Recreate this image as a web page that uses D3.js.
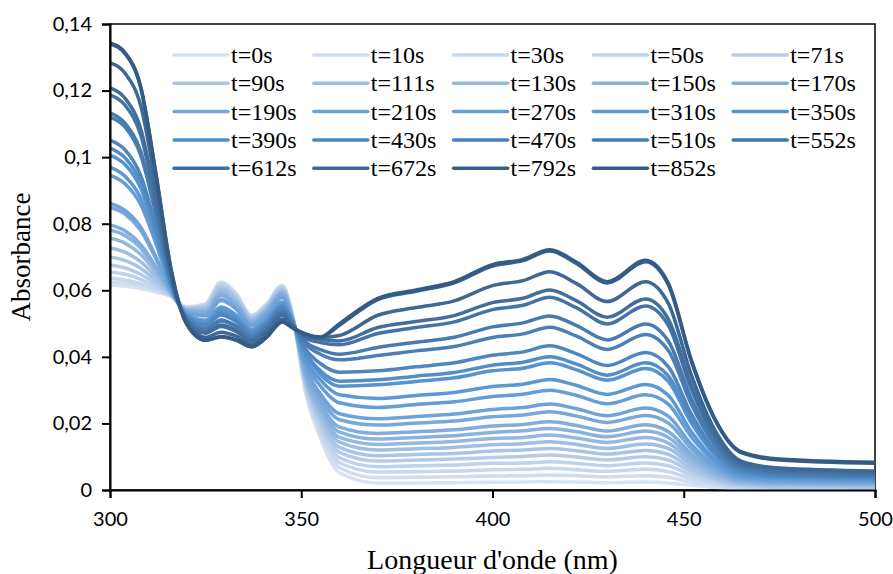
<!DOCTYPE html>
<html>
<head>
<meta charset="utf-8">
<script src="https://cdn.jsdelivr.net/npm/d3@7"></script>
<style>
  body { margin: 0; background: #fff; }
  svg { display: block; }
</style>
</head>
<body>
<svg id="chart"></svg>
<script>
// wavelength grid (nm) shared by every spectrum
const wavelengths = [300, 304, 308, 312, 316, 320, 325, 329, 333, 337, 341, 345, 348, 351, 355, 360,
  370, 380, 390, 400, 408, 415, 422, 430, 440, 446, 452, 458, 465, 475, 500];

const times = ['t=0s', 't=10s', 't=30s', 't=50s', 't=71s', 't=90s', 't=111s', 't=130s', 't=150s', 't=170s',
  't=190s', 't=210s', 't=270s', 't=310s', 't=350s', 't=390s', 't=430s', 't=470s', 't=510s', 't=552s',
  't=612s', 't=672s', 't=792s', 't=852s'];

const a0 = [0.0616, 0.0612, 0.0605, 0.0594, 0.0582, 0.0550, 0.0560, 0.0625, 0.0590, 0.0525, 0.0560, 0.0615, 0.0510, 0.0299, 0.0156, 0.0052,
  0.0021, 0.0021, 0.0022, 0.0023, 0.0024, 0.0025, 0.0024, 0.0022, 0.0024, 0.0021, 0.0014, 0.0008, 0.0004, 0.0003, 0.0003];
const a10 = [0.0625, 0.0621, 0.0612, 0.0598, 0.0582, 0.0549, 0.0559, 0.0623, 0.0588, 0.0524, 0.0559, 0.0614, 0.0510, 0.0305, 0.0167, 0.0067,
  0.0037, 0.0038, 0.0040, 0.0042, 0.0043, 0.0045, 0.0043, 0.0039, 0.0043, 0.0038, 0.0024, 0.0013, 0.0006, 0.0005, 0.0004];
const a30 = [0.0637, 0.0631, 0.0620, 0.0603, 0.0583, 0.0549, 0.0557, 0.0620, 0.0586, 0.0522, 0.0557, 0.0612, 0.0509, 0.0312, 0.0178, 0.0082,
  0.0054, 0.0055, 0.0057, 0.0061, 0.0062, 0.0065, 0.0061, 0.0056, 0.0062, 0.0055, 0.0034, 0.0018, 0.0008, 0.0006, 0.0005];
const a50 = [0.0655, 0.0648, 0.0633, 0.0610, 0.0584, 0.0547, 0.0554, 0.0616, 0.0582, 0.0520, 0.0555, 0.0609, 0.0509, 0.0318, 0.0189, 0.0097,
  0.0070, 0.0073, 0.0075, 0.0080, 0.0081, 0.0085, 0.0080, 0.0073, 0.0081, 0.0073, 0.0044, 0.0023, 0.0011, 0.0008, 0.0007];
const a71 = [0.0676, 0.0667, 0.0648, 0.0619, 0.0585, 0.0546, 0.0551, 0.0611, 0.0578, 0.0517, 0.0552, 0.0606, 0.0508, 0.0324, 0.0201, 0.0113,
  0.0087, 0.0090, 0.0093, 0.0098, 0.0101, 0.0105, 0.0099, 0.0091, 0.0100, 0.0090, 0.0055, 0.0029, 0.0014, 0.0010, 0.0009];
const a90 = [0.0700, 0.0689, 0.0666, 0.0629, 0.0587, 0.0544, 0.0547, 0.0606, 0.0574, 0.0514, 0.0548, 0.0602, 0.0507, 0.0330, 0.0212, 0.0128,
  0.0103, 0.0107, 0.0110, 0.0117, 0.0120, 0.0125, 0.0118, 0.0108, 0.0119, 0.0107, 0.0065, 0.0034, 0.0016, 0.0012, 0.0010];
const a111 = [0.0727, 0.0714, 0.0686, 0.0641, 0.0589, 0.0542, 0.0543, 0.0600, 0.0569, 0.0511, 0.0545, 0.0598, 0.0506, 0.0337, 0.0224, 0.0144,
  0.0120, 0.0124, 0.0128, 0.0136, 0.0139, 0.0145, 0.0137, 0.0125, 0.0138, 0.0124, 0.0076, 0.0041, 0.0020, 0.0015, 0.0013];
const a130 = [0.0757, 0.0741, 0.0708, 0.0654, 0.0591, 0.0540, 0.0539, 0.0593, 0.0563, 0.0507, 0.0541, 0.0594, 0.0505, 0.0343, 0.0236, 0.0158,
  0.0137, 0.0141, 0.0146, 0.0155, 0.0158, 0.0165, 0.0156, 0.0143, 0.0158, 0.0141, 0.0087, 0.0047, 0.0023, 0.0017, 0.0015];
const a150 = [0.0781, 0.0764, 0.0727, 0.0664, 0.0593, 0.0539, 0.0535, 0.0588, 0.0558, 0.0503, 0.0537, 0.0590, 0.0504, 0.0349, 0.0247, 0.0174,
  0.0153, 0.0158, 0.0163, 0.0173, 0.0178, 0.0185, 0.0175, 0.0160, 0.0177, 0.0158, 0.0098, 0.0053, 0.0026, 0.0021, 0.0018];
const a170 = [0.0796, 0.0778, 0.0738, 0.0671, 0.0594, 0.0538, 0.0533, 0.0584, 0.0555, 0.0501, 0.0535, 0.0588, 0.0504, 0.0355, 0.0259, 0.0189,
  0.0170, 0.0175, 0.0181, 0.0192, 0.0197, 0.0205, 0.0194, 0.0177, 0.0196, 0.0175, 0.0109, 0.0059, 0.0029, 0.0023, 0.0020];
const a190 = [0.0850, 0.0828, 0.0780, 0.0695, 0.0598, 0.0534, 0.0525, 0.0572, 0.0545, 0.0494, 0.0528, 0.0580, 0.0502, 0.0364, 0.0275, 0.0211,
  0.0195, 0.0201, 0.0207, 0.0220, 0.0225, 0.0235, 0.0222, 0.0203, 0.0224, 0.0201, 0.0124, 0.0067, 0.0033, 0.0025, 0.0022];
const a210 = [0.0862, 0.0839, 0.0790, 0.0701, 0.0599, 0.0533, 0.0523, 0.0569, 0.0543, 0.0493, 0.0526, 0.0578, 0.0502, 0.0372, 0.0289, 0.0229,
  0.0214, 0.0221, 0.0228, 0.0242, 0.0248, 0.0258, 0.0244, 0.0223, 0.0246, 0.0221, 0.0137, 0.0074, 0.0037, 0.0028, 0.0025];
const a270 = [0.0946, 0.0919, 0.0858, 0.0741, 0.0607, 0.0527, 0.0510, 0.0550, 0.0526, 0.0482, 0.0515, 0.0565, 0.0499, 0.0385, 0.0313, 0.0262,
  0.0248, 0.0257, 0.0265, 0.0281, 0.0288, 0.0300, 0.0284, 0.0259, 0.0286, 0.0257, 0.0159, 0.0085, 0.0042, 0.0032, 0.0028];
const a310 = [0.0970, 0.0942, 0.0878, 0.0752, 0.0610, 0.0526, 0.0506, 0.0545, 0.0522, 0.0479, 0.0511, 0.0561, 0.0498, 0.0395, 0.0331, 0.0286,
  0.0275, 0.0284, 0.0293, 0.0311, 0.0318, 0.0332, 0.0314, 0.0287, 0.0317, 0.0284, 0.0175, 0.0093, 0.0045, 0.0035, 0.0030];
const a350 = [0.1006, 0.0977, 0.0908, 0.0770, 0.0614, 0.0523, 0.0501, 0.0537, 0.0515, 0.0474, 0.0506, 0.0556, 0.0497, 0.0410, 0.0347, 0.0312,
  0.0316, 0.0326, 0.0337, 0.0358, 0.0366, 0.0382, 0.0361, 0.0330, 0.0365, 0.0326, 0.0201, 0.0107, 0.0051, 0.0039, 0.0034];
const a390 = [0.1027, 0.0997, 0.0926, 0.0780, 0.0616, 0.0522, 0.0498, 0.0532, 0.0511, 0.0471, 0.0504, 0.0553, 0.0496, 0.0416, 0.0358, 0.0327,
  0.0331, 0.0342, 0.0353, 0.0375, 0.0384, 0.0400, 0.0378, 0.0345, 0.0382, 0.0342, 0.0211, 0.0112, 0.0054, 0.0041, 0.0036];
const a430 = [0.1051, 0.1021, 0.0946, 0.0792, 0.0619, 0.0520, 0.0494, 0.0526, 0.0506, 0.0468, 0.0500, 0.0549, 0.0495, 0.0426, 0.0380, 0.0354,
  0.0358, 0.0370, 0.0382, 0.0405, 0.0415, 0.0433, 0.0409, 0.0374, 0.0413, 0.0370, 0.0228, 0.0121, 0.0058, 0.0044, 0.0038];
const a470 = [0.1120, 0.1089, 0.1007, 0.0828, 0.0628, 0.0515, 0.0484, 0.0511, 0.0493, 0.0459, 0.0491, 0.0539, 0.0493, 0.0440, 0.0408, 0.0391,
  0.0404, 0.0418, 0.0431, 0.0458, 0.0469, 0.0489, 0.0462, 0.0422, 0.0467, 0.0418, 0.0257, 0.0136, 0.0064, 0.0049, 0.0042];
const a510 = [0.1133, 0.1101, 0.1018, 0.0834, 0.0629, 0.0514, 0.0482, 0.0508, 0.0491, 0.0458, 0.0489, 0.0537, 0.0492, 0.0446, 0.0422, 0.0408,
  0.0428, 0.0444, 0.0459, 0.0490, 0.0502, 0.0523, 0.0494, 0.0451, 0.0499, 0.0447, 0.0274, 0.0145, 0.0069, 0.0052, 0.0045];
const a552 = [0.1187, 0.1155, 0.1067, 0.0863, 0.0636, 0.0511, 0.0474, 0.0496, 0.0480, 0.0450, 0.0482, 0.0529, 0.0490, 0.0457, 0.0443, 0.0436,
  0.0470, 0.0488, 0.0505, 0.0542, 0.0555, 0.0579, 0.0547, 0.0499, 0.0553, 0.0494, 0.0303, 0.0160, 0.0075, 0.0056, 0.0048];
const a612 = [0.1208, 0.1176, 0.1086, 0.0875, 0.0640, 0.0509, 0.0471, 0.0491, 0.0476, 0.0448, 0.0479, 0.0526, 0.0490, 0.0462, 0.0453, 0.0448,
  0.0488, 0.0506, 0.0524, 0.0563, 0.0576, 0.0601, 0.0568, 0.0519, 0.0574, 0.0513, 0.0316, 0.0168, 0.0080, 0.0061, 0.0053];
const a672 = [0.1283, 0.1251, 0.1156, 0.0916, 0.0651, 0.0504, 0.0459, 0.0474, 0.0462, 0.0438, 0.0468, 0.0514, 0.0487, 0.0468, 0.0458, 0.0464,
  0.0525, 0.0548, 0.0568, 0.0614, 0.0629, 0.0656, 0.0620, 0.0566, 0.0626, 0.0560, 0.0345, 0.0183, 0.0087, 0.0066, 0.0057];
const a792 = [0.1340, 0.1310, 0.1210, 0.0949, 0.0660, 0.0500, 0.0450, 0.0461, 0.0451, 0.0430, 0.0460, 0.0505, 0.0485, 0.0470, 0.0458, 0.0495,
  0.0572, 0.0597, 0.0622, 0.0673, 0.0689, 0.0718, 0.0680, 0.0622, 0.0686, 0.0616, 0.0386, 0.0214, 0.0112, 0.0090, 0.0080];
const a852 = [0.1343, 0.1313, 0.1213, 0.0951, 0.0661, 0.0500, 0.0450, 0.0460, 0.0450, 0.0430, 0.0460, 0.0505, 0.0485, 0.0468, 0.0460, 0.0500,
  0.0576, 0.0601, 0.0626, 0.0677, 0.0693, 0.0722, 0.0684, 0.0626, 0.0690, 0.0620, 0.0390, 0.0217, 0.0115, 0.0093, 0.0083];

const spectra = [a0, a10, a30, a50, a71, a90, a111, a130, a150, a170, a190, a210, a270, a310, a350, a390,
  a430, a470, a510, a552, a612, a672, a792, a852];

const xTicks = [300, 350, 400, 450, 500];
const yTicks = [0, 0.02, 0.04, 0.06, 0.08, 0.1, 0.12, 0.14];

const seriesColors = ['#d8e3f2', '#cfddf0', '#c6d8ee', '#bdd2eb', '#b4cce8', '#a9c5e5', '#9ebee3', '#94b8e0',
  '#8ab2de', '#81acdc', '#78a7da', '#6fa2d8', '#659dd6', '#5c98d3', '#5793ce', '#528dc6',
  '#4e86bd', '#4a80b5', '#477aae', '#4474a6', '#416e9e', '#3d6894', '#38618a', '#345b83'];

const config = {
  width: 893, height: 574,
  margin: {top: 24, right: 18, bottom: 84, left: 110}
};

const width = config.width - config.margin.left - config.margin.right;
const height = config.height - config.margin.top - config.margin.bottom;

const svg = d3.select('#chart')
  .attr('width', config.width)
  .attr('height', config.height);

const chart = svg.append('g')
  .attr('transform', `translate(${config.margin.left},${config.margin.top})`);

const xScale = d3.scaleLinear().domain([300, 500]).range([0, width]);
const yScale = d3.scaleLinear().domain([0, 0.14]).range([height, 0]);

const fmt = d => String(+d.toFixed(2)).replace('.', ',');

// frame
chart.append('rect')
  .attr('width', width)
  .attr('height', height)
  .attr('fill', 'none')
  .attr('stroke', '#000')
  .attr('stroke-width', 1.5);

chart.append('clipPath').attr('id', 'plot-clip')
  .append('rect').attr('width', width).attr('height', height);

const line = d3.line()
  .x((d, i) => xScale(wavelengths[i]))
  .y(d => yScale(d))
  .curve(d3.curveMonotoneX);

chart.append('g')
  .attr('clip-path', 'url(#plot-clip)')
  .selectAll('.spectrum')
  .data(spectra)
  .join('path')
  .attr('class', 'spectrum')
  .attr('d', line)
  .attr('fill', 'none')
  .attr('stroke', (d, i) => seriesColors[i])
  .attr('stroke-width', 3.5)
  .attr('stroke-linejoin', 'round')
  .attr('stroke-linecap', 'round');

// axes
const xAxis = d3.axisBottom(xScale).tickValues(xTicks).tickSize(8).tickPadding(14).tickFormat(d3.format('d'));
const yAxis = d3.axisLeft(yScale).tickValues(yTicks).tickSize(8).tickPadding(10).tickFormat(fmt);

chart.append('g')
  .attr('transform', `translate(0,${height})`)
  .call(xAxis)
  .call(g => g.selectAll('.domain, line').attr('stroke', '#000').attr('stroke-width', 2))
  .call(g => g.selectAll('text').attr('fill', '#000').style('font-family', 'Lato, sans-serif').style('font-size', '20px'));

chart.append('g')
  .call(yAxis)
  .call(g => g.selectAll('.domain, line').attr('stroke', '#000').attr('stroke-width', 2))
  .call(g => g.selectAll('text').attr('fill', '#000').style('font-family', 'Lato, sans-serif').style('font-size', '20px'));

// axis titles
svg.append('text')
  .attr('x', config.margin.left + width / 2)
  .attr('y', 569)
  .attr('text-anchor', 'middle')
  .style('font-family', '"Liberation Serif", "Times New Roman", serif')
  .style('font-size', '28px')
  .text("Longueur d'onde (nm)");

svg.append('text')
  .attr('transform', `translate(30,${config.margin.top + height / 2}) rotate(-90)`)
  .attr('text-anchor', 'middle')
  .style('font-family', '"Liberation Serif", "Times New Roman", serif')
  .style('font-size', '27px')
  .text('Absorbance');

// legend, 5 columns
const legend = svg.append('g').attr('transform', 'translate(174,55)');
const item = legend.selectAll('.legend-item')
  .data(times)
  .join('g')
  .attr('class', 'legend-item')
  .attr('transform', (d, i) => `translate(${(i % 5) * 139.8},${Math.floor(i / 5) * 28.3})`);

item.append('line')
  .attr('x1', 0).attr('x2', 54)
  .attr('stroke', (d, i) => seriesColors[i])
  .attr('stroke-width', 3.5)
  .attr('stroke-linecap', 'round');

item.append('text')
  .attr('x', 57)
  .attr('dy', '0.33em')
  .attr('font-family', '"Liberation Serif", "Times New Roman", serif')
  .attr('font-size', 24)
  .text(d => d);
</script>
</body>
</html>
